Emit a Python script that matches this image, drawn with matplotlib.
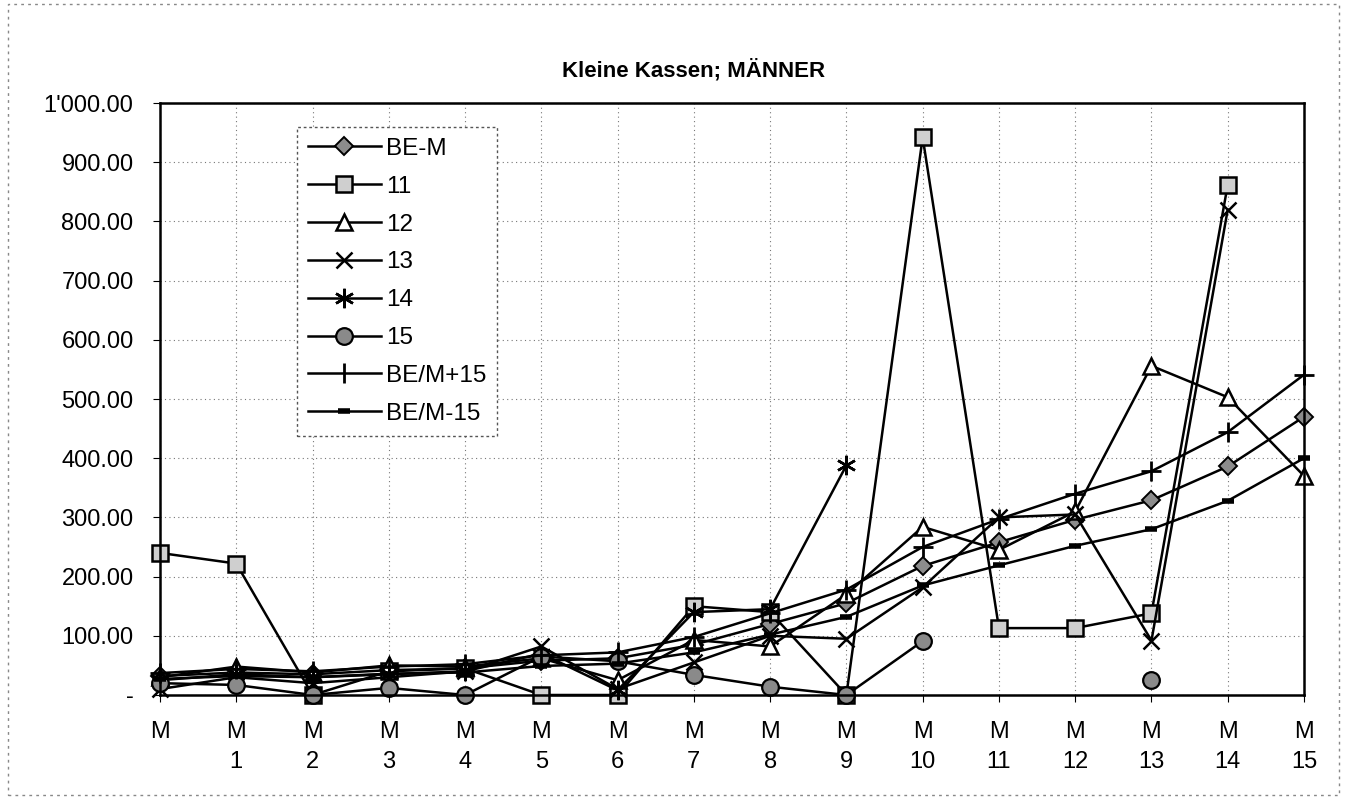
#!/usr/bin/env python3
"""Kleine Kassen; MAENNER - Liniendiagramm der Werte je Altersstufe."""

import matplotlib
matplotlib.use("Agg")
import matplotlib.pyplot as plt
from matplotlib.patches import Rectangle
from matplotlib.ticker import FuncFormatter, FixedLocator
import numpy as np

plt.rcParams['font.family'] = ['Liberation Sans', 'DejaVu Sans']

# categories on the x axis
categories = ["M"] + ["M\n%d" % i for i in range(1, 16)]

# series values (None = no value)
be_m      = [32, 38, 35, 42, 45, 58, 62, 85, 120, 155, 218, 258, 296, 329, 386, 470]
kasse_11  = [240, 222, 0, 40, 45, 0, 0, 150, 140, 0, 942, 113, 113, 138, 862, None]
kasse_12  = [30, 48, 38, 50, 48, 62, 25, 93, 82, 170, 284, 245, 310, 556, 503, 370]
kasse_13  = [10, 30, 20, 30, 40, 82, 10, 55, 100, 95, 182, 300, 305, 92, 820, None]
kasse_14  = [25, 35, 30, 35, 40, 70, 8, 140, 145, 388, None, None, None, None, None, None]
kasse_15  = [20, 17, 0, 12, 0, 65, 57, 34, 14, 0, 91, None, None, 25, None, None]
be_plus15 = [37, 44, 40, 48, 52, 67, 72, 98, 138, 178, 250, 297, 340, 378, 444, 541]
be_min15  = [27, 32, 30, 36, 38, 49, 53, 72, 102, 132, 185, 219, 252, 280, 328, 400]

series = [
    ("BE-M", be_m, dict(marker='D', ms=9, mfc='#8c8c8c', mec='black', mew=1.4)),
    ("11", kasse_11, dict(marker='s', ms=12, mfc='#cfcfcf', mec='black', mew=1.8)),
    ("12", kasse_12, dict(marker='^', ms=12, mfc='white', mec='black', mew=1.8)),
    ("13", kasse_13, dict(marker='x', ms=12, mec='black', mew=1.8)),
    ("14", kasse_14, dict(marker=(6, 2, 0), ms=14, mec='black', mew=1.8)),
    ("15", kasse_15, dict(marker='o', ms=12, mfc='#8a8a8a', mec='black', mew=1.6)),
    ("BE/M+15", be_plus15, dict(marker='|', ms=14, mec='black', mew=2.0)),
    ("BE/M-15", be_min15, dict(marker='_', ms=8, mec='black', mew=4.0)),
]


def fmt_value(v, pos):
    if abs(v) < 1e-9:
        return "-"
    return "{:,.2f}".format(v).replace(",", "'")


def main():
    fig = plt.figure(figsize=(13.47, 7.99), dpi=100)
    ax = fig.add_axes([160 / 1347, 104 / 799, 1144 / 1347, 592 / 799])

    x = np.arange(len(categories))
    for name, values, style in series:
        y = np.array([np.nan if v is None else v for v in values], dtype=float)
        ax.plot(x, y, color='black', lw=1.8, label=name, clip_on=False, **style)
        if name == "BE/M+15":
            # horizontal stroke of the plus marker
            ax.plot(x, y, ls='none', marker='_', ms=14, mec='black', mew=2.0,
                    clip_on=False)

    ax.set_xlim(0, len(categories) - 1)
    ax.set_ylim(0, 1000)
    ax.xaxis.set_major_locator(FixedLocator(x))
    ax.set_xticklabels(categories, fontsize=17, linespacing=1.45, va='top')
    ax.set_yticks(np.arange(0, 1001, 100))
    ax.yaxis.set_major_formatter(FuncFormatter(fmt_value))
    ax.tick_params(axis='y', labelsize=17, length=5, pad=14)
    ax.tick_params(axis='x', length=5, pad=14)

    ax.grid(True, color='#777777', ls=(0, (1, 3)), lw=0.8)
    for sp in ax.spines.values():
        sp.set_linewidth(1.8)
        sp.set_color('black')

    fig.text(694 / 1347, 1 - 70 / 799, "Kleine Kassen; MÄNNER", fontsize=16,
             fontweight='bold', ha='center', va='center')

    leg = ax.legend(loc='upper left', bbox_to_anchor=(137 / 1144, 1 - 24 / 592),
                    fontsize=17.5, handlelength=3.0, labelspacing=0.65,
                    borderpad=0.45, handletextpad=0.2, fancybox=False,
                    framealpha=1, borderaxespad=0)
    leg.get_frame().set_edgecolor('#555555')
    leg.get_frame().set_linestyle((0, (2, 2)))
    leg.get_frame().set_linewidth(1.0)
    leg.set_zorder(5)

    # dotted frame around the whole chart
    fig.patches.append(Rectangle((8 / 1347, 4 / 799), 1331 / 1347, 791 / 799,
                                 transform=fig.transFigure, fill=False,
                                 ec='#888888', lw=1.0, ls=(0, (2, 3))))

    fig.savefig("out.png", dpi=100)
    print("Saved out.png")


if __name__ == "__main__":
    main()
